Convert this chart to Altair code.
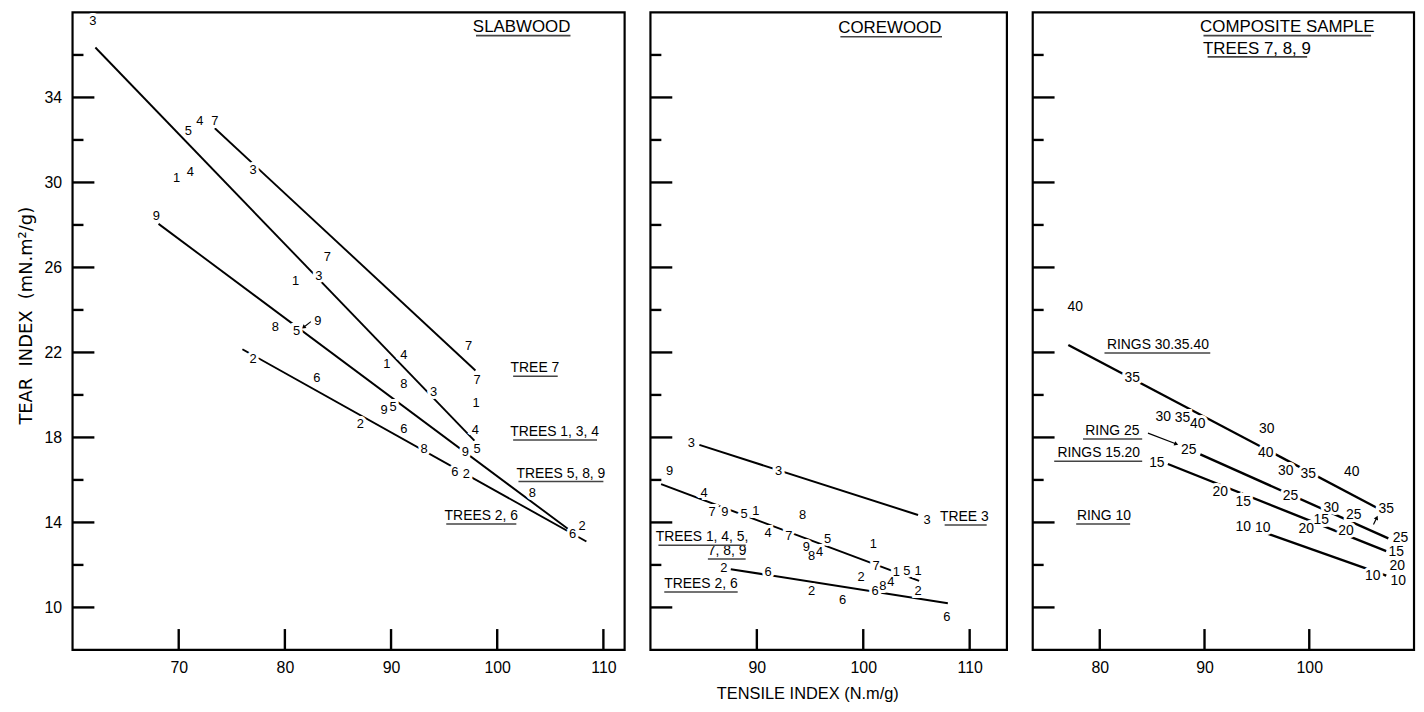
import math
import altair as alt
import pandas as pd

FONT = "Liberation Sans"

# ---------------- shared y axis ----------------
Y_DOMAIN = [8, 38]
Y_MAJOR = [10, 14, 18, 22, 26, 30, 34]
Y_MINOR = [12, 16, 20, 24, 28, 32, 36]

# ---------------- panel 1 : SLABWOOD ----------------
P1_XDOMAIN = [60, 112]
P1_XTICKS = [70, 80, 90, 100, 110]
P1_LINE_X1 = [73.4, 62.15, 68.1, 76.0]
P1_LINE_Y1 = [32.55, 36.35, 28.05, 22.15]
P1_LINE_X2 = [97.95, 97.85, 106.65, 108.4]
P1_LINE_Y2 = [21.15, 17.85, 13.7, 13.1]
P1_LABEL_TEXT = ["3", "5", "4", "7", "1", "4", "3", "9", "7", "1", "3", "8", "5", "9",
                 "2", "6", "7", "4", "1", "7", "8", "3", "1", "9", "5", "2", "6", "4",
                 "8", "9", "5", "6", "2", "8", "6", "2"]
P1_LABEL_X = [61.9, 70.9, 72.0, 73.4, 69.8, 71.1, 77.0, 67.9, 84.0, 81.0, 83.2, 79.1, 81.1, 83.1,
              77.0, 83.0, 97.3, 91.2, 89.6, 98.1, 91.2, 94.0, 98.0, 89.35, 90.2, 87.1, 91.2, 97.95,
              93.1, 97.0, 98.1, 96.0, 97.1, 103.3, 107.1, 108.0]
P1_LABEL_Y = [37.6, 32.4, 32.9, 32.9, 30.2, 30.5, 30.6, 28.4, 26.5, 25.35, 25.6, 23.2, 23.0, 23.5,
              21.7, 20.8, 22.3, 21.9, 21.45, 20.7, 20.5, 20.15, 19.6, 19.3, 19.45, 18.65, 18.4, 18.35,
              17.45, 17.3, 17.45, 16.35, 16.3, 15.4, 13.45, 13.85]
P1_HEAD_TEXT = ["SLABWOOD"]
P1_HEAD_X = [102.3]
P1_HEAD_Y = [37.3]
P1_HEAD_UL1 = [98.0]
P1_HEAD_UL2 = [106.9]
P1_NOTE_TEXT = ["TREE 7", "TREES 1, 3, 4", "TREES 5, 8, 9", "TREES 2, 6"]
P1_NOTE_X = [103.55, 105.4, 106.0, 98.5]
P1_NOTE_Y = [21.25, 18.25, 16.3, 14.3]
P1_NOTE_UL1 = [101.5, 101.5, 102.0, 95.2]
P1_NOTE_UL2 = [105.7, 109.4, 110.0, 101.8]
P1_ARROW_X1 = [82.45]
P1_ARROW_Y1 = [23.45]
P1_ARROW_X2 = [81.8]
P1_ARROW_Y2 = [23.2]

# ---------------- panel 2 : COREWOOD ----------------
P2_XDOMAIN = [80, 113.5]
P2_XTICKS = [90, 100, 110]
P2_LINE_X1 = [84.6, 81.0, 87.55]
P2_LINE_Y1 = [17.65, 15.8, 11.8]
P2_LINE_X2 = [105.15, 105.25, 107.95]
P2_LINE_Y2 = [14.35, 11.25, 10.2]
P2_LABEL_TEXT = ["3", "3", "3", "9", "4", "7", "9", "5", "1", "8", "4", "7", "9", "8", "4", "5",
                 "1", "7", "1", "5", "1", "2", "6", "8", "4", "2", "2", "6", "2", "6", "6"]
P2_LABEL_X = [83.85, 92.05, 106.0, 81.8, 85.05, 85.8, 87.0, 88.8, 89.9, 94.3, 91.05, 93.0, 94.65,
              95.15, 95.9, 96.65, 100.95, 101.2, 103.1, 104.1, 105.15, 99.8, 101.1, 101.85, 102.6,
              105.15, 86.9, 91.05, 95.15, 98.05, 107.85]
P2_LABEL_Y = [17.75, 16.4, 14.1, 16.4, 15.4, 14.5, 14.5, 14.4, 14.55, 14.35, 13.5, 13.35, 12.85,
              12.4, 12.6, 13.2, 13.0, 11.95, 11.65, 11.7, 11.7, 11.45, 10.75, 11.0, 11.2,
              10.75, 11.85, 11.65, 10.75, 10.35, 9.55]
P2_HEAD_TEXT = ["COREWOOD"]
P2_HEAD_X = [102.5]
P2_HEAD_Y = [37.25]
P2_HEAD_UL1 = [97.85]
P2_HEAD_UL2 = [107.4]
P2_NOTE_TEXT = ["TREE 3", "TREES 1, 4, 5,", "7, 8, 9", "TREES 2, 6"]
P2_NOTE_X = [109.5, 84.85, 87.2, 84.75]
P2_NOTE_Y = [14.25, 13.3, 12.65, 11.1]
P2_NOTE_UL1 = [107.65, 80.75, 85.4, 81.3]
P2_NOTE_UL2 = [111.6, 88.95, 88.95, 88.2]

# ---------------- panel 3 : COMPOSITE SAMPLE ----------------
P3_XDOMAIN = [73.6, 110]
P3_XTICKS = [80, 90, 100]
P3_LINE_X1 = [77.0, 89.6, 86.5, 94.7]
P3_LINE_Y1 = [22.35, 17.2, 16.75, 13.7]
P3_LINE_X2 = [106.4, 107.55, 107.35, 107.35]
P3_LINE_Y2 = [14.7, 13.25, 12.65, 11.5]
P3_LABEL_TEXT = ["40", "35", "30", "35", "40", "30", "40", "25", "15", "30", "35", "40", "20", "25",
                 "15", "30", "25", "35", "15", "20", "20", "10", "10", "25", "15", "20", "10", "10"]
P3_LABEL_X = [77.65, 83.1, 86.05, 87.9, 89.35, 95.95, 95.85, 88.5, 85.45, 97.75, 99.9, 104.05, 91.5,
              98.2, 93.7, 102.1, 104.25, 107.35, 101.15, 99.7, 103.5, 93.7, 95.55, 108.7, 108.3,
              108.4, 106.05, 108.5]
P3_LABEL_Y = [24.15, 20.8, 18.95, 18.9, 18.65, 18.4, 17.25, 17.4, 16.8, 16.4, 16.3, 16.35, 15.45,
              15.25, 14.95, 14.7, 14.35, 14.65, 14.1, 13.7, 13.6, 13.8, 13.75, 13.25, 12.6,
              11.95, 11.5, 11.25]
P3_HEAD_TEXT = ["COMPOSITE SAMPLE", "TREES 7, 8, 9"]
P3_HEAD_X = [97.9, 95.0]
P3_HEAD_Y = [37.3, 36.3]
P3_HEAD_UL1 = [89.9, 90.3]
P3_HEAD_UL2 = [105.9, 99.8]
P3_NOTE_TEXT = ["RINGS  30.35.40", "RING  25", "RINGS  15.20", "RING 10"]
P3_NOTE_X = [85.55, 81.2, 79.9, 80.4]
P3_NOTE_Y = [22.35, 18.3, 17.25, 14.3]
P3_NOTE_UL1 = [80.45, 78.4, 75.65, 77.75]
P3_NOTE_UL2 = [90.55, 84.05, 84.05, 82.9]
P3_ARROW_X1 = [84.6, 106.13]
P3_ARROW_Y1 = [18.2, 13.9]
P3_ARROW_X2 = [87.25, 106.42]
P3_ARROW_Y2 = [17.7, 14.2]

H = 642
UL_OFFSET_PX = 8
NB = "\u00a0"


def build_panel(width, xdom, xticks, lx1, ly1, lx2, ly2, ltext, lx, ly,
                htext, hx, hy, hul1, hul2, ntext, nx, ny, nul1, nul2,
                ax1=None, ay1=None, ax2=None, ay2=None,
                show_y=False, x_title=None, label_size=13, line_width=2.0):
    xs = alt.Scale(domain=xdom, nice=False, zero=False)
    ys = alt.Scale(domain=Y_DOMAIN, nice=False, zero=False)
    ppx = width / (xdom[1] - xdom[0])
    ppy = H / (Y_DOMAIN[1] - Y_DOMAIN[0])

    xaxis_kw = dict(values=xticks, ticks=False, domain=False, grid=False,
                    labelPadding=10, labelFontSize=16, labelFont=FONT,
                    labelColor="black")
    if x_title:
        xaxis_kw.update(titleFontSize=16.5, titleFont=FONT, titleFontWeight="normal",
                        titleColor="black", titlePadding=10,
                        titleX=width * 0.44, titleAlign="center")
    xaxis = alt.Axis(**xaxis_kw)
    yaxis = None
    if show_y:
        yaxis = alt.Axis(values=Y_MAJOR, ticks=False, domain=False, grid=False,
                         labelPadding=11, labelFontSize=16, labelFont=FONT,
                         labelColor="black", titleFontSize=18, titleFont="DejaVu Sans",
                         titleFontWeight="normal", titleColor="black", titlePadding=9,
                         titleY=H * 0.475, titleAlign="center")

    def X(f):
        return alt.X(f, type="quantitative", scale=xs, axis=xaxis, title=x_title)

    def Y(f):
        if show_y:
            return alt.Y(f, type="quantitative", scale=ys, axis=yaxis,
                         title="TEAR" + NB * 2 + "INDEX" + NB * 2 + "(mN.m²/g)")
        return alt.Y(f, type="quantitative", scale=ys, axis=None)

    layers = []
    # ticks drawn inside the frame
    ymaj = pd.DataFrame({"v": Y_MAJOR})
    ymin = pd.DataFrame({"v": Y_MINOR})
    xt = pd.DataFrame({"v": xticks})
    layers.append(alt.Chart(ymaj).mark_rule(color="black", strokeWidth=2.4).encode(
        y=Y("v"), x=alt.value(0), x2=alt.value(22)))
    layers.append(alt.Chart(ymin).mark_rule(color="black", strokeWidth=2.4).encode(
        y=Y("v"), x=alt.value(0), x2=alt.value(11)))
    layers.append(alt.Chart(xt).mark_rule(color="black", strokeWidth=2.4).encode(
        x=X("v"), y=alt.value(H), y2=alt.value(H - 21)))

    # regression lines
    lines = pd.DataFrame({"x1": lx1, "y1": ly1, "x2": lx2, "y2": ly2})
    layers.append(alt.Chart(lines).mark_rule(color="black", strokeWidth=line_width).encode(
        x=X("x1"), y=Y("y1"), x2="x2", y2="y2"))

    # arrows
    if ax1:
        ang = []
        for a, b, c, d in zip(ax1, ay1, ax2, ay2):
            dx = (c - a) * ppx
            dy = -(d - b) * ppy
            ang.append(math.degrees(math.atan2(dx, -dy)) % 360)
        arr = pd.DataFrame({"x1": ax1, "y1": ay1, "x2": ax2, "y2": ay2, "ang": ang})
        layers.append(alt.Chart(arr).mark_rule(color="black", strokeWidth=1.2).encode(
            x=X("x1"), y=Y("y1"), x2="x2", y2="y2"))
        layers.append(alt.Chart(arr).mark_point(shape="triangle", filled=True, color="black",
                                                size=22, opacity=1).encode(
            x=X("x2"), y=Y("y2"), angle=alt.Angle("ang", scale=None)))

    # point labels with a white halo (the gaps in the lines)
    lab = pd.DataFrame({"t": ltext, "x": lx, "y": ly})
    layers.append(alt.Chart(lab).mark_text(font=FONT, fontSize=label_size, baseline="middle",
                                           align="center", color="white", stroke="white",
                                           strokeWidth=6).encode(
        x=X("x"), y=Y("y"), text="t"))
    layers.append(alt.Chart(lab).mark_text(font=FONT, fontSize=label_size, baseline="middle",
                                           align="center", color="black").encode(
        x=X("x"), y=Y("y"), text="t"))

    # headings and notes with underlines
    off = UL_OFFSET_PX / ppy
    heads = pd.DataFrame({"t": htext, "x": hx, "y": hy, "u1": hul1, "u2": hul2})
    heads["uy"] = heads["y"] - off * 1.05
    notes = pd.DataFrame({"t": ntext, "x": nx, "y": ny, "u1": nul1, "u2": nul2})
    notes["uy"] = notes["y"] - off
    layers.append(alt.Chart(heads).mark_text(font=FONT, fontSize=17, baseline="middle",
                                             align="center", color="black").encode(
        x=X("x"), y=Y("y"), text="t"))
    layers.append(alt.Chart(heads).mark_rule(color="#444444", strokeWidth=1.6).encode(
        x=X("u1"), x2="u2", y=Y("uy")))
    layers.append(alt.Chart(notes).mark_text(font=FONT, fontSize=14, baseline="middle",
                                             align="center", color="black").encode(
        x=X("x"), y=Y("y"), text="t"))
    layers.append(alt.Chart(notes).mark_rule(color="#444444", strokeWidth=1.4).encode(
        x=X("u1"), x2="u2", y=Y("uy")))

    return alt.layer(*layers).properties(width=width, height=H)


p1 = build_panel(556, P1_XDOMAIN, P1_XTICKS, P1_LINE_X1, P1_LINE_Y1, P1_LINE_X2, P1_LINE_Y2,
                 P1_LABEL_TEXT, P1_LABEL_X, P1_LABEL_Y,
                 P1_HEAD_TEXT, P1_HEAD_X, P1_HEAD_Y, P1_HEAD_UL1, P1_HEAD_UL2,
                 P1_NOTE_TEXT, P1_NOTE_X, P1_NOTE_Y, P1_NOTE_UL1, P1_NOTE_UL2,
                 P1_ARROW_X1, P1_ARROW_Y1, P1_ARROW_X2, P1_ARROW_Y2,
                 show_y=True, label_size=13, line_width=1.9)
p2 = build_panel(359, P2_XDOMAIN, P2_XTICKS, P2_LINE_X1, P2_LINE_Y1, P2_LINE_X2, P2_LINE_Y2,
                 P2_LABEL_TEXT, P2_LABEL_X, P2_LABEL_Y,
                 P2_HEAD_TEXT, P2_HEAD_X, P2_HEAD_Y, P2_HEAD_UL1, P2_HEAD_UL2,
                 P2_NOTE_TEXT, P2_NOTE_X, P2_NOTE_Y, P2_NOTE_UL1, P2_NOTE_UL2,
                 x_title="TENSILE INDEX (N.m/g)", label_size=13, line_width=2.0)
p3 = build_panel(384, P3_XDOMAIN, P3_XTICKS, P3_LINE_X1, P3_LINE_Y1, P3_LINE_X2, P3_LINE_Y2,
                 P3_LABEL_TEXT, P3_LABEL_X, P3_LABEL_Y,
                 P3_HEAD_TEXT, P3_HEAD_X, P3_HEAD_Y, P3_HEAD_UL1, P3_HEAD_UL2,
                 P3_NOTE_TEXT, P3_NOTE_X, P3_NOTE_Y, P3_NOTE_UL1, P3_NOTE_UL2,
                 P3_ARROW_X1, P3_ARROW_Y1, P3_ARROW_X2, P3_ARROW_Y2,
                 label_size=14, line_width=2.4)

chart = (alt.hconcat(p1, p2, p3, spacing=21)
         .properties(padding={"left": 8, "top": 0, "right": 0, "bottom": 0})
         .configure(background="white")
         .configure_view(stroke="black", strokeWidth=2.2))

chart.save("out.html", embed_options={"renderer": "svg", "actions": False})
